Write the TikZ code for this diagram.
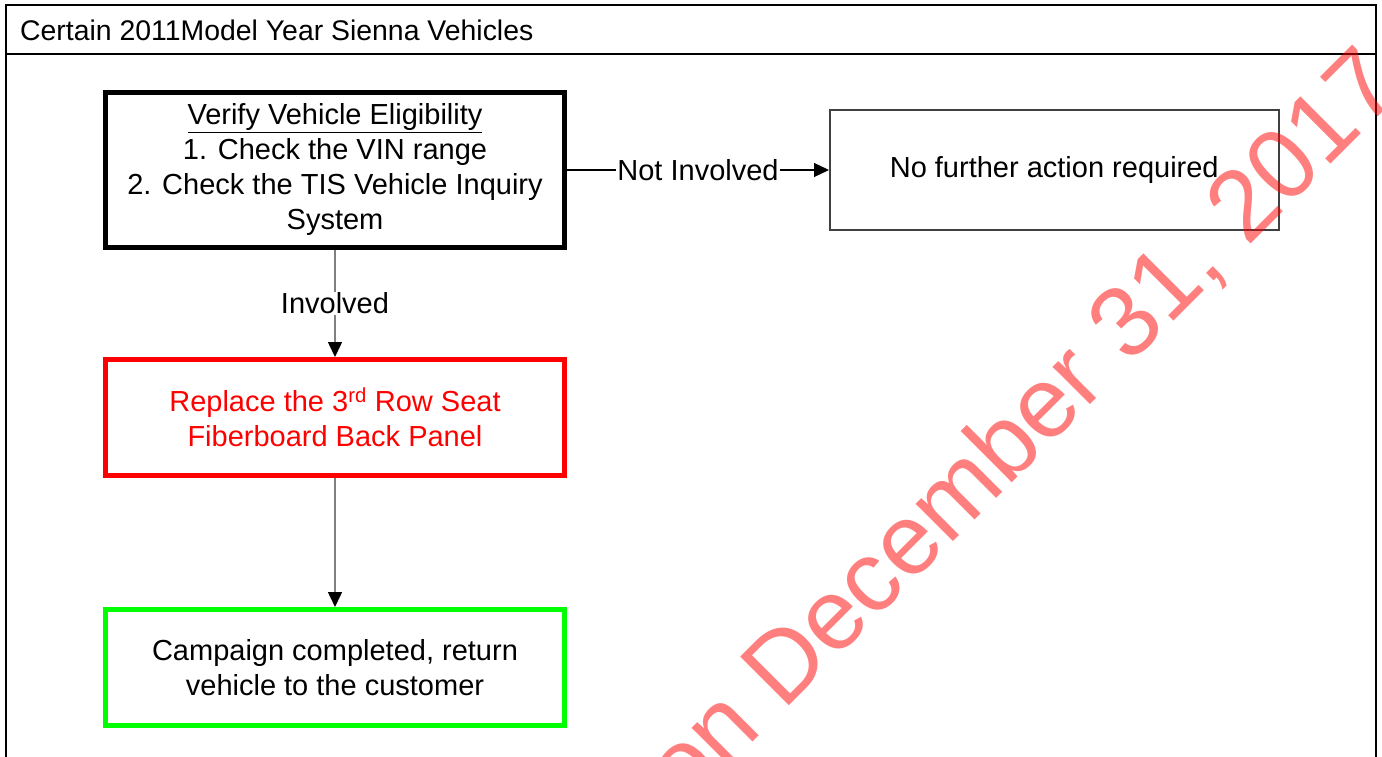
\documentclass[tikz,border=0pt]{standalone}
\usepackage{fontspec}
\setmainfont{Liberation Sans}
\usetikzlibrary{positioning,arrows.meta}
\definecolor{RecallRed}{RGB}{255,0,0}
\definecolor{DoneGreen}{RGB}{0,255,0}
\definecolor{LinkGray}{RGB}{128,128,128}
\definecolor{StampRed}{RGB}{255,0,0}

\begin{document}
\begin{tikzpicture}[x=1pt, y=-1pt,
    every node/.style={font=\fontsize{29}{35}\selectfont, align=center},
    flowbox/.style={draw, line width=5pt, minimum width=459pt, minimum height=116pt, inner sep=0pt},
    link/.style={LinkGray, line width=1.5pt, -{Triangle[length=15pt, width=14pt, color=black]}},
    tag/.style={fill=white, text=black, inner sep=1pt}]
  \useasboundingbox (0,0) rectangle (1382,757);
  \clip (0,0) rectangle (1382,757);
  % outer frame and header
  \draw[line width=2.5pt] (6,780) -- (6,5) -- (1376,5) -- (1376,780);
  \draw[line width=2.5pt] (6,54) -- (1376,54);
  \node[anchor=west, inner sep=0pt, font=\fontsize{28.4}{34}\selectfont] (title) at (20,30)
    {Certain 2011Model Year Sienna Vehicles};

  % steps
  \node[flowbox, minimum height=155pt] (verify) at (335,170)
    {\underline{Verify Vehicle Eligibility}\\1. Check the VIN range\\2. Check the TIS Vehicle Inquiry\\System};
  \node[draw=black!75, line width=1.5pt, minimum width=449pt, minimum height=120pt,
        right=262pt of verify] (nofurther) {No further action required};
  \node[flowbox, draw=RecallRed, text=RecallRed, below=107pt of verify] (replace)
    {Replace the 3\textsuperscript{rd} Row Seat\\Fiberboard Back Panel};
  \node[flowbox, draw=DoneGreen, below=129pt of replace] (done)
    {Campaign completed, return\\vehicle to the customer};

  % connectors
  \draw[link, black, line width=1.2pt] (verify) -- node[tag] {Not Involved} (nofurther);
  \draw[link] (verify) -- node[tag] {Involved} (replace);
  \draw[link] (replace) -- (done);

  % watermark
  \node[text=StampRed, text opacity=0.5, font=\fontsize{100}{100}\selectfont, rotate=45,
        anchor=base west, inner sep=0pt] (stamp) at (685,810) {on December 31, 2017};
\end{tikzpicture}
\end{document}
